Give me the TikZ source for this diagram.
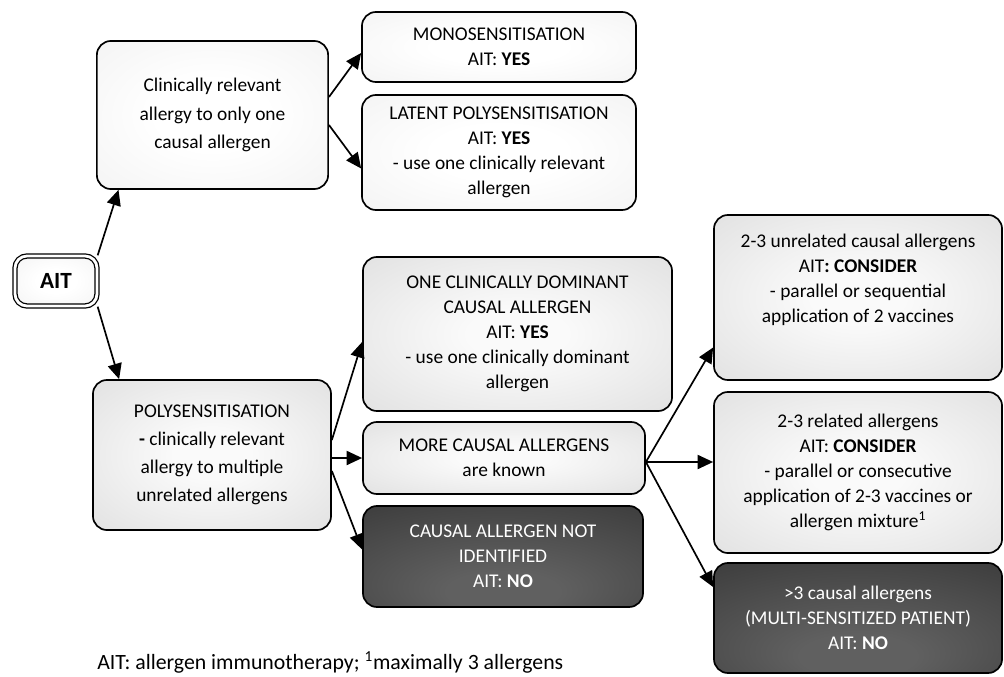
\documentclass[tikz,border=0pt]{standalone}
\usepackage{fontspec}
\setmainfont{Carlito}
\usetikzlibrary{arrows.meta, calc}
\definecolor{lightedge}{HTML}{E2E2E2}
\definecolor{midedge}{HTML}{C0C0C0}
\definecolor{midcore}{HTML}{FAFAFA}
\definecolor{darkedge}{HTML}{1A1A1A}
\definecolor{darkcore}{HTML}{606060}
\pgfdeclareradialshading{lightglow}{\pgfpointorigin}{color(0bp)=(white); color(12bp)=(white); color(75bp)=(lightedge)}
\pgfdeclareradialshading{midglow}{\pgfpointorigin}{color(0bp)=(midcore); color(8bp)=(midcore); color(75bp)=(midedge)}
\pgfdeclareradialshading{darkglow}{\pgfpoint{0bp}{-20bp}}{color(0bp)=(darkcore); color(10bp)=(darkcore); color(75bp)=(darkedge)}

\begin{document}
\begin{tikzpicture}[x=0.025cm, y=-0.025cm,
    box/.style={draw=black, line width=1.2pt, rounded corners=0.35cm, align=center, inner sep=0pt,
      font=\fontsize{13.8}{17.8}\selectfont},
    lightbox/.style={box, shading=lightglow},
    midbox/.style={box, shading=midglow},
    darkbox/.style={box, shading=darkglow, text=white},
    tallline/.style={font=\fontsize{13.8}{20}\selectfont},
    link/.style={line width=1.2pt, -{Triangle[length=11pt, width=10pt]}}]
    \useasboundingbox (0,0) rectangle (1004,676);

    % start
    \node[lightbox, double=white, double distance=2pt, line width=0.9pt, rounded corners=0.3cm,
      minimum width=2.05cm, minimum height=1.25cm, font=\fontsize{16.5}{18}\selectfont\bfseries] (ait) at (56,281) {AIT};

    % one allergen
    \node[lightbox, tallline, minimum width=5.78cm, minimum height=3.7cm] (clin) at (212.5,115)
      {Clinically relevant\\allergy to only one\\causal allergen};
    \node[lightbox, minimum width=6.85cm, minimum height=1.75cm] (mono) at (499,47)
      {MONOSENSITISATION\\AIT: \textbf{YES}};
    \node[lightbox, minimum width=6.85cm, minimum height=2.875cm] (latent) at (499,152.5)
      {LATENT POLYSENSITISATION\\AIT: \textbf{YES}\\- use one clinically relevant\\allergen};

    % multiple allergens
    \node[midbox, tallline, minimum width=5.95cm, minimum height=3.75cm] (poly) at (212,455)
      {POLYSENSITISATION\\\textbf{-} clinically relevant\\allergy to multiple\\unrelated allergens};
    \node[midbox, minimum width=7.725cm, minimum height=3.85cm] (one) at (517.5,334)
      {ONE CLINICALLY DOMINANT\\CAUSAL ALLERGEN\\AIT: \textbf{YES}\\- use one clinically dominant\\allergen};
    \node[midbox, minimum width=7.05cm, minimum height=1.8cm] (more) at (504,458)
      {MORE CAUSAL ALLERGENS\\are known};
    \node[darkbox, minimum width=7cm, minimum height=2.525cm] (notid) at (503,556.5)
      {CAUSAL ALLERGEN NOT\\IDENTIFIED\\AIT: \textbf{NO}};

    % more causal allergens
    \node[midbox, minimum width=7.2cm, minimum height=4.125cm] (unrel) at (858,297.5)
      {2-3 unrelated causal allergens\\AIT\textbf{: CONSIDER}\\- parallel or sequential\\application of 2 vaccines\\[10pt]};
    \node[midbox, minimum width=7.2cm, minimum height=4.025cm] (rel) at (858,472.5)
      {2-3 related allergens\\AIT: \textbf{CONSIDER}\\- parallel or consecutive\\application of 2-3 vaccines or\\allergen mixture\textsuperscript{1}};
    \node[darkbox, minimum width=7.2cm, minimum height=2.75cm] (multi) at (858,618)
      {>3 causal allergens\\(MULTI-SENSITIZED PATIENT)\\AIT: \textbf{NO}};

    \node[anchor=base west, inner sep=0pt, font=\fontsize{15.5}{17}\selectfont] (note) at (97,669)
      {AIT: allergen immunotherapy; \textsuperscript{1}maximally 3 allergens};

    % arrows
    \draw[link] (ait.north east) -- ($(clin.south)+(-94,0)$);
    \draw[link] (ait.south east) -- ($(poly.north west)+(27,0)$);
    \draw[link] ($(clin.east)+(0,-18)$) -- ($(mono.west)+(0,6)$);
    \draw[link] ($(clin.east)+(0,10)$) -- ($(latent.west)+(0,16)$);
    \draw[link] ($(poly.east)+(0,-15)$) -- ($(one.west)+(0,8)$);
    \draw[link] (poly.east |- more.west) -- (more.west);
    \draw[link] ($(poly.east)+(0,16)$) -- ($(notid.west)+(0,-7)$);
    \coordinate (fork) at ($(more.east)+(0,4)$);
    \draw[link] (fork) -- ($(unrel.west)+(0,50)$);
    \draw[link] (fork) -- (fork -| rel.west);
    \draw[link] (fork) -- ($(multi.west)+(0,-31)$);
\end{tikzpicture}
\end{document}
